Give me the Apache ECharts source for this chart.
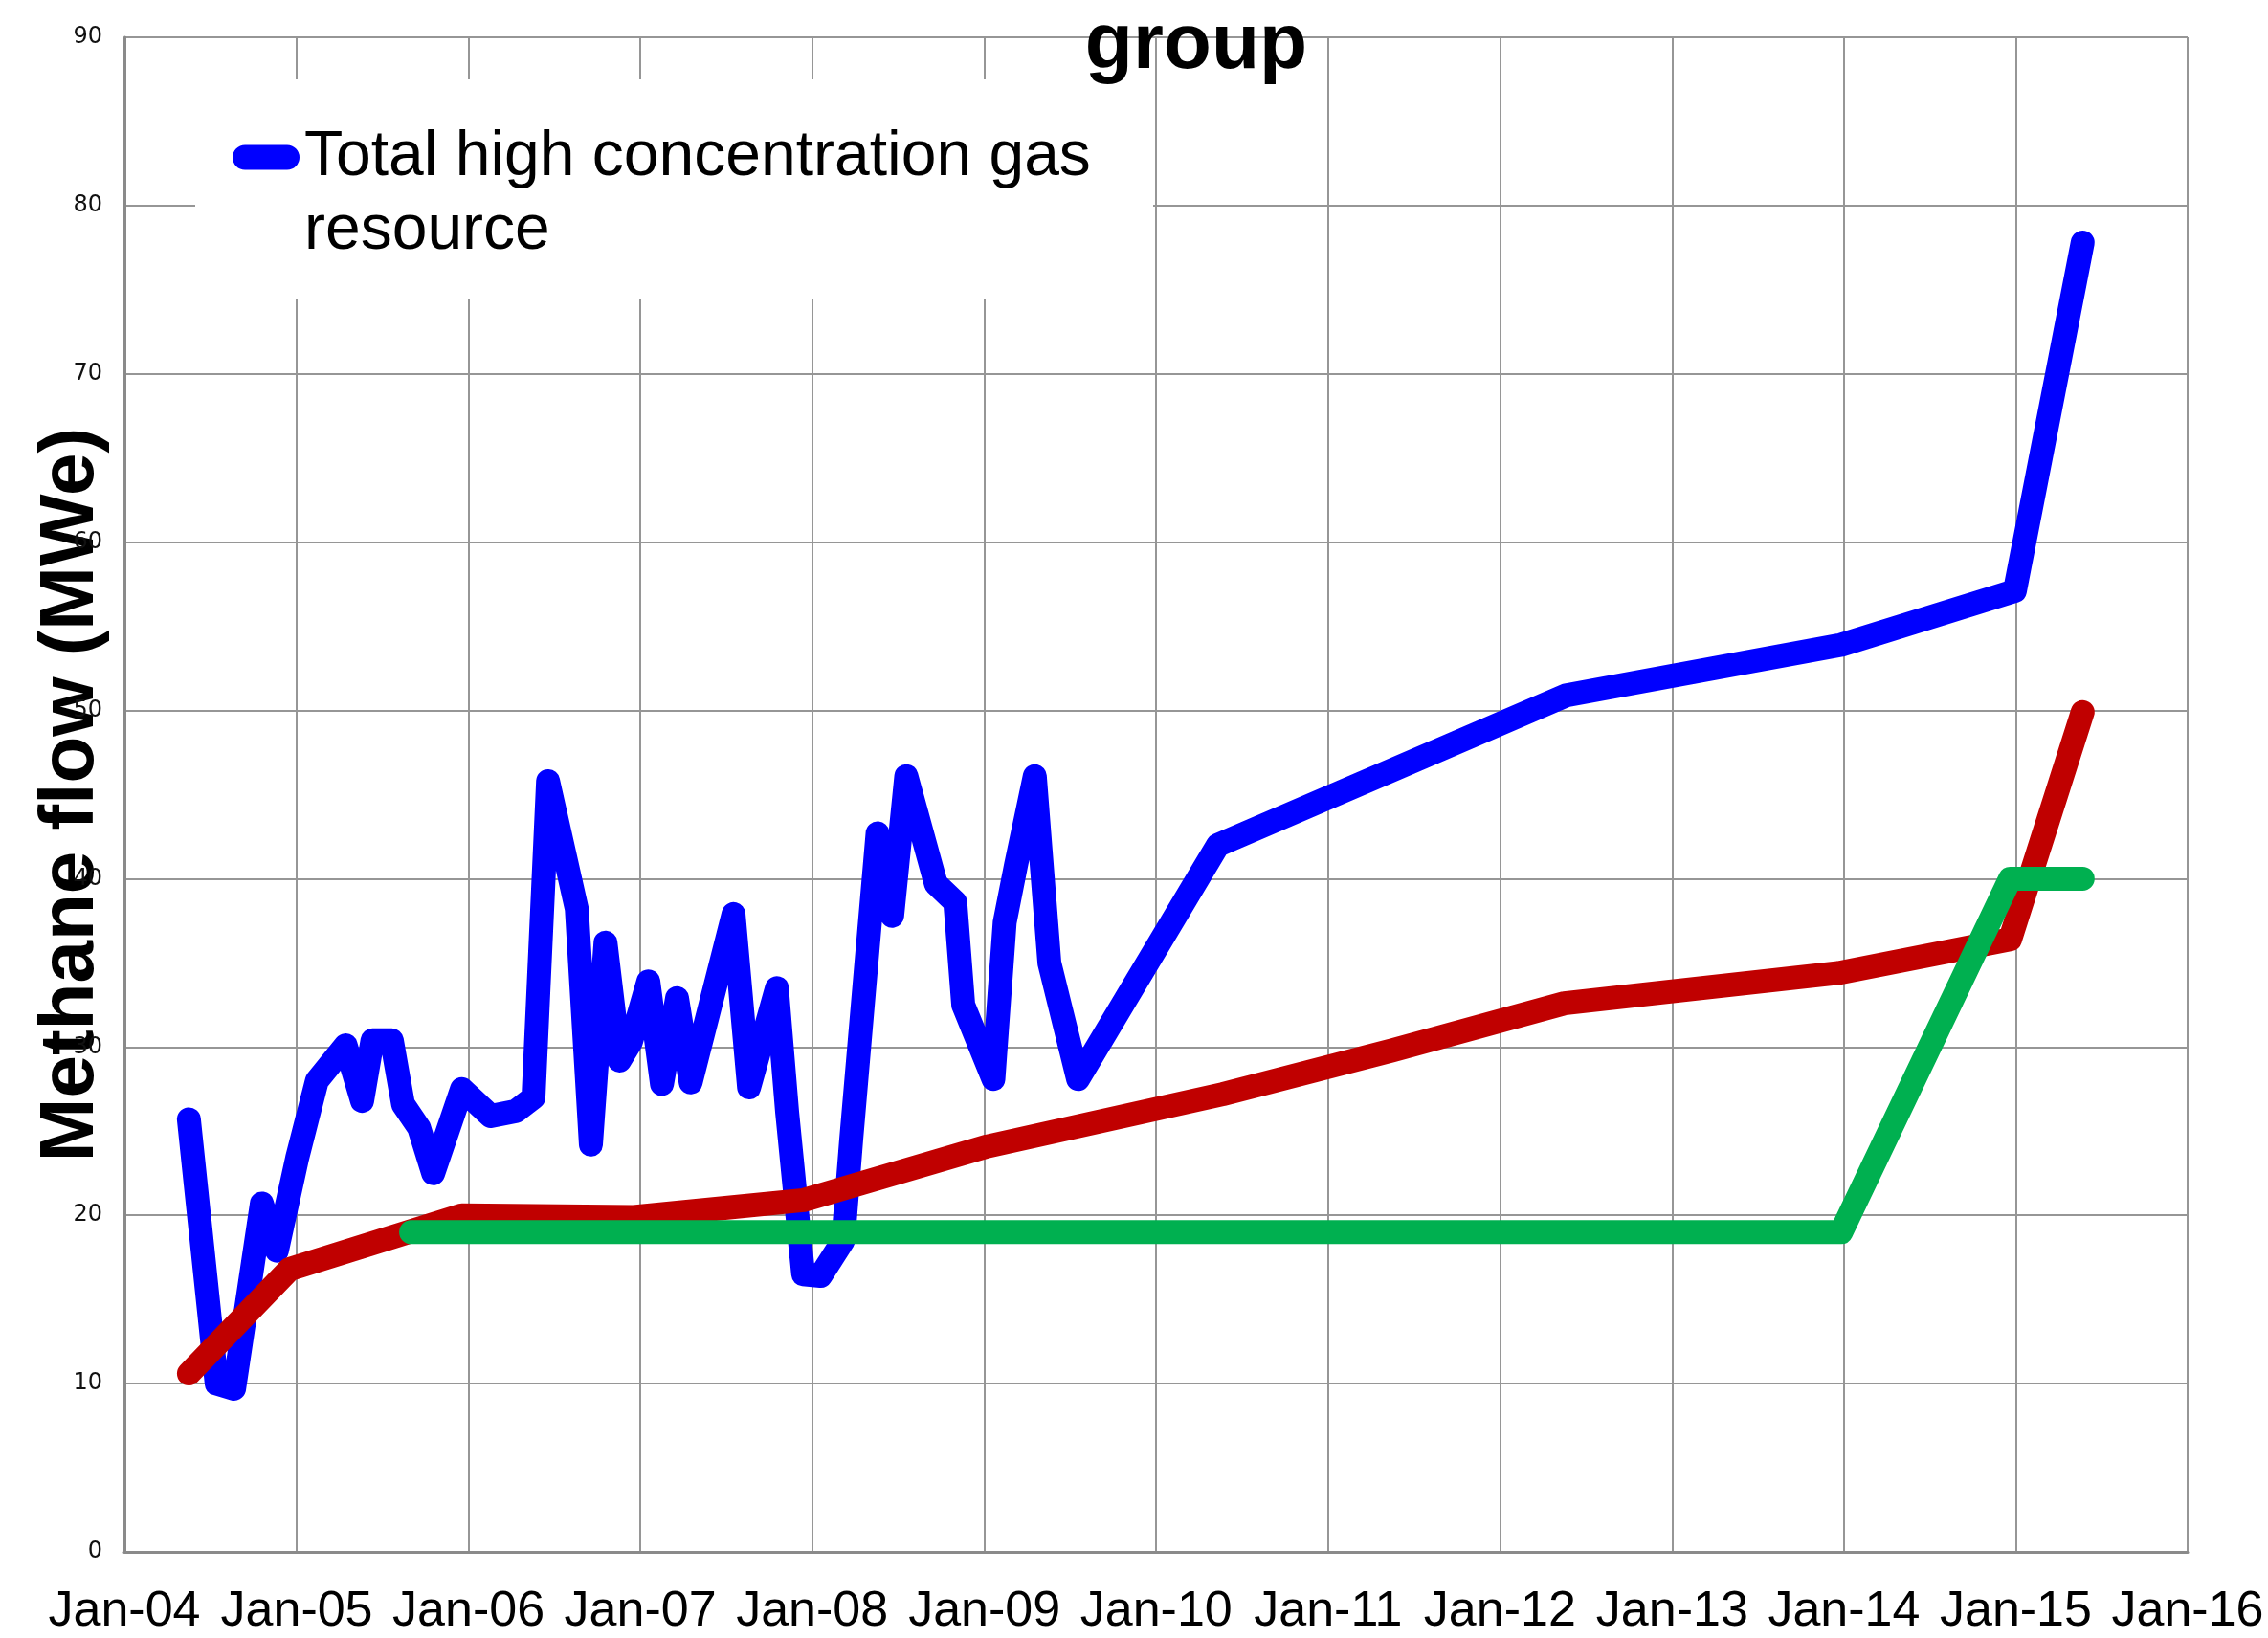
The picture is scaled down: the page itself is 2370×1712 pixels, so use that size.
<!DOCTYPE html>
<html>
<head>
<meta charset="utf-8">
<script src="https://cdn.jsdelivr.net/npm/echarts@6/dist/echarts.min.js"></script>
<style>
html, body { margin: 0; padding: 0; background: #fff; }
#chart { width: 2370px; height: 1712px; }
</style>
</head>
<body>
<div id="chart"></div>
<script>
// total high concentration gas resource (blue)
var totalDates = ["2004-05-17", "2004-07-15", "2004-08-21", "2004-10-19", "2004-11-20", "2005-01-02",
    "2005-02-13", "2005-04-15", "2005-05-20", "2005-06-11", "2005-07-22", "2005-08-15", "2005-09-18",
    "2005-10-18", "2005-12-18", "2006-02-17", "2006-04-12", "2006-05-19", "2006-06-19", "2006-08-19",
    "2006-09-18", "2006-10-19", "2006-11-18", "2006-12-12", "2007-01-18", "2007-02-16", "2007-03-20",
    "2007-04-18", "2007-07-18", "2007-08-20", "2007-10-18", "2007-11-09", "2007-12-13", "2008-01-19",
    "2008-03-07", "2008-03-24", "2008-05-19", "2008-06-19", "2008-07-19", "2008-09-20", "2008-10-31",
    "2008-11-17", "2009-01-20", "2009-02-13", "2009-03-09", "2009-04-18", "2009-05-19", "2009-07-19",
    "2010-05-12", "2012-05-21", "2013-12-26", "2014-12-30", "2015-05-23"]
var totalValues = [25.7, 10.0, 9.7, 20.7, 17.9, 23.4,
    28.0, 30.1, 26.8, 30.4, 30.4, 26.6, 25.2,
    22.5, 27.5, 25.9, 26.2, 27.0, 45.8, 38.2,
    24.2, 36.2, 29.2, 30.3, 33.9, 27.8, 32.9,
    27.9, 37.9, 27.6, 33.5, 26.1, 16.5, 16.4,
    18.5, 24.5, 42.7, 37.8, 46.1, 39.7, 38.6,
    32.5, 28.1, 37.4, 40.8, 46.1, 35.0, 28.1,
    42.0, 50.9, 53.9, 57.1, 77.8]

// red series
var redDates = ["2004-05-17", "2004-12-17", "2005-12-18", "2006-12-18", "2007-12-13", "2009-01-08",
    "2010-05-22", "2011-05-17", "2012-05-17", "2013-12-20", "2014-12-20", "2015-05-23"]
var redValues = [10.6, 16.8, 20.0, 19.9, 20.9, 24.1, 27.2, 29.8, 32.6, 34.4, 36.4, 49.9]

// green series
var greenDates = ["2005-09-01", "2013-12-26", "2014-12-20", "2015-05-23"]
var greenValues = [19.0, 19.0, 40.0, 40.0]

var yTicks = [0, 10, 20, 30, 40, 50, 60, 70, 80, 90]
var xStart = "2004-01-01", xEnd = "2016-01-01"

function pairs(dates, values) {
    return dates.map((d, i) => [d, values[i]])
}

var ONE_YEAR = 365 * 24 * 3600 * 1000
var gridColor = "#969696"
var font = "'Liberation Sans', Arial, sans-serif"
var totalName = "Total high concentration gas\nresource"
// capsule on the first text line; the bare segment at the bottom only stretches the icon box
var legendIcon = "path://M13,0 L57,0 A13,13 0 0 1 57,26 L13,26 A13,13 0 0 1 13,0 Z M0,103 L70,103"

var chart = echarts.init(document.getElementById("chart"))
chart.setOption({
    backgroundColor: "#fff",
    animation: false,
    title: {
        text: "group",
        left: 1250,
        top: 7,
        textAlign: "center",
        padding: 0,
        textStyle: { fontFamily: font, fontWeight: "bold", fontSize: 82, color: "#000" }
    },
    graphic: [{
        type: "rect",
        z: 1,
        shape: { x: 204, y: 83, width: 1001, height: 230 },
        style: { fill: "#fff" }
    }],
    legend: {
        data: [totalName],
        left: 243,
        top: 126,
        padding: 0,
        icon: legendIcon,
        itemWidth: 70,
        itemHeight: 103,
        itemStyle: { borderWidth: 0 },
        textStyle: { fontFamily: font, fontSize: 66, lineHeight: 77, color: "#000" }
    },
    grid: { left: 130, right: 84, top: 39, bottom: 90, outerBoundsMode: "none" },
    xAxis: {
        type: "time",
        min: xStart,
        max: xEnd,
        splitNumber: 12,
        minInterval: ONE_YEAR,
        maxInterval: ONE_YEAR,
        axisLine: { lineStyle: { color: "#8a8a8a", width: 3 } },
        axisTick: { show: false },
        splitLine: { show: true, lineStyle: { color: gridColor, width: 2 } },
        axisLabel: {
            showMinLabel: true,
            showMaxLabel: true,
            margin: 37,
            fontFamily: font,
            fontSize: 52,
            color: "#000",
            formatter: (val) => "Jan-" + String(new Date(val).getFullYear()).slice(2)
        }
    },
    yAxis: {
        type: "value",
        min: yTicks[0],
        max: yTicks[yTicks.length - 1],
        interval: 10,
        name: "Methane flow (MWe)",
        nameLocation: "middle",
        nameRotate: 90,
        nameGap: 15,
        nameMoveOverlap: false,
        nameTextStyle: { fontFamily: font, fontWeight: "bold", fontSize: 80, color: "#000" },
        axisLine: { show: true, lineStyle: { color: "#8a8a8a", width: 3 } },
        axisTick: { show: false },
        splitLine: { show: true, lineStyle: { color: gridColor, width: 2 } },
        axisLabel: { margin: 23, fontFamily: "'DejaVu Sans', sans-serif", fontSize: 24, color: "#111" }
    },
    series: [{
        name: totalName,
        type: "line",
        symbol: "none",
        z: 2,
        color: "#0000ff",
        lineStyle: { width: 25, color: "#0000ff", cap: "round", join: "round" },
        data: pairs(totalDates, totalValues)
    }, {
        name: "red",
        type: "line",
        symbol: "none",
        z: 3,
        color: "#c00000",
        lineStyle: { width: 25, color: "#c00000", cap: "round", join: "round" },
        data: pairs(redDates, redValues)
    }, {
        name: "green",
        type: "line",
        symbol: "none",
        z: 4,
        color: "#00b050",
        lineStyle: { width: 25, color: "#00b050", cap: "round", join: "round" },
        data: pairs(greenDates, greenValues)
    }]
})
</script>
</body>
</html>
